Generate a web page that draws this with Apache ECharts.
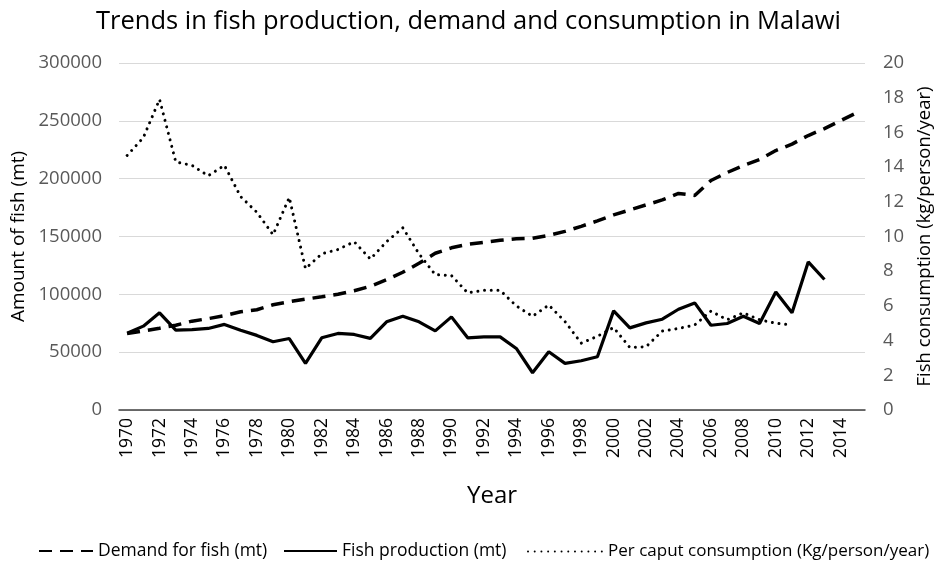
<!DOCTYPE html>
<html>
<head>
<meta charset="utf-8">
<script src="https://cdn.jsdelivr.net/npm/echarts@6/dist/echarts.min.js"></script>
<style>html,body{margin:0;padding:0;background:#fff}#c{width:937px;height:565px}</style>
</head>
<body>
<div id="c"></div>
<script>
const years = ["1970","1971","1972","1973","1974","1975","1976","1977","1978","1979","1980","1981","1982","1983","1984","1985","1986","1987","1988","1989","1990","1991","1992","1993","1994","1995","1996","1997","1998","1999","2000","2001","2002","2003","2004","2005","2006","2007","2008","2009","2010","2011","2012","2013","2014","2015"];
const demand = [66200,68200,70700,73300,76800,79000,81500,85000,86700,91000,93600,95800,97900,100100,103100,107000,112600,119100,126800,135500,140200,143200,145000,146700,148000,148400,151000,154400,158800,163500,168700,173000,177300,181600,187200,185500,198400,205300,211400,216600,224300,229900,237300,243300,250200,257100];
const production = [66400,72500,84000,69000,69500,70500,74000,69000,64500,59000,61800,40300,62400,66200,65300,61900,76200,81100,76200,68400,80500,62400,63200,63200,53200,32200,50300,40300,42600,46000,85700,71000,75300,78500,87100,92600,73300,74800,81000,74800,102000,84000,128000,112800,null,null];
const consumption = [14.67,15.7,17.9,14.3,14.1,13.5,14.1,12.3,11.4,10.1,12.25,8.15,9.0,9.25,9.7,8.7,9.7,10.5,9.0,7.8,7.75,6.75,6.9,6.9,6.0,5.4,6.05,5.1,3.85,4.25,4.75,3.6,3.65,4.55,4.7,4.9,5.7,5.2,5.6,5.2,5.0,4.9,null,null,null,null];
const seriesNames = ["Demand for fish (mt)","Fish production (mt)","Per caput consumption (Kg/person/year)"];
const titleText = "Trends in fish production, demand and consumption in Malawi";

const FONT = "'Open Sans', sans-serif";
const legendText = {fontFamily:FONT,fontSize:17.5,color:'#000'};
const chart = echarts.init(document.getElementById('c'), null, {renderer:'canvas'});
chart.setOption({
  animation:false,
  backgroundColor:'#fff',
  title:{text:titleText,left:'center',top:4,textStyle:{fontFamily:FONT,fontSize:25.5,fontWeight:'normal',color:'#000'}},
  grid:{left:119,right:72,top:63,bottom:155,containLabel:false,outerBoundsMode:'none'},
  legend:[
    {bottom:0,left:33,itemWidth:54,itemHeight:10,itemStyle:{opacity:0},textStyle:legendText,data:[seriesNames[0]]},
    {bottom:0,left:278,itemWidth:53,itemHeight:10,itemStyle:{opacity:0},textStyle:legendText,data:[seriesNames[1]]},
    {bottom:0,left:522,itemWidth:75,itemHeight:10,itemStyle:{opacity:0},textStyle:{fontFamily:FONT,fontSize:17,color:'#000'},data:[seriesNames[2]]}
  ],
  xAxis:{
    type:'category',data:years,boundaryGap:true,
    name:'Year',nameLocation:'middle',nameGap:74,
    nameTextStyle:{fontFamily:FONT,fontSize:24,color:'#000'},
    axisLine:{lineStyle:{color:'#404040',width:1.5}},
    axisTick:{show:false},
    axisLabel:{rotate:90,interval:1,fontFamily:FONT,fontSize:17.5,color:'#000',margin:8}
  },
  yAxis:[
    {type:'value',min:0,max:300000,interval:50000,
     name:'Amount of fish (mt)',nameLocation:'middle',nameGap:86,
     nameTextStyle:{fontFamily:FONT,fontSize:19,color:'#000'},
     axisLine:{show:false},axisTick:{show:false},
     axisLabel:{fontFamily:FONT,fontSize:18.5,color:'#595959',margin:17,formatter:function(v){return String(v);}},
     splitLine:{lineStyle:{color:'#d9d9d9',width:1}}},
    {type:'value',min:0,max:20,interval:2,
     name:'Fish consumption (kg/person/year)',nameLocation:'middle',nameGap:50,nameRotate:90,
     nameTextStyle:{fontFamily:FONT,fontSize:18.5,color:'#000'},
     axisLine:{show:false},axisTick:{show:false},
     axisLabel:{fontFamily:FONT,fontSize:18.5,color:'#595959',margin:18},
     splitLine:{show:false}}
  ],
  series:[
    {name:seriesNames[0],type:'line',yAxisIndex:0,data:demand,symbol:'none',
     lineStyle:{color:'#000',width:3.5,type:[13,8]},itemStyle:{color:'#000'}},
    {name:seriesNames[1],type:'line',yAxisIndex:0,data:production,symbol:'none',connectNulls:false,
     lineStyle:{color:'#000',width:3.2,type:'solid'},itemStyle:{color:'#000'}},
    {name:seriesNames[2],type:'line',yAxisIndex:1,data:consumption,symbol:'none',
     lineStyle:{color:'#000',width:3,type:[0.01,6.7],cap:'round'},itemStyle:{color:'#000'}}
  ]
});
</script>
</body>
</html>
